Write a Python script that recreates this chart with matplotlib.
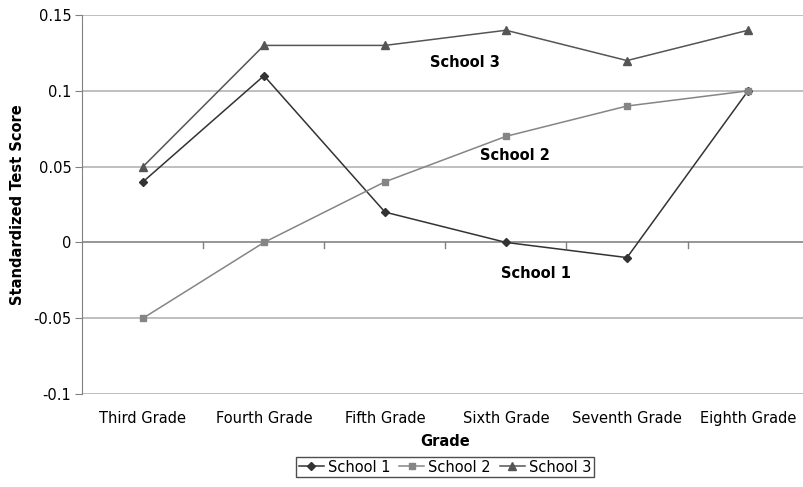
import matplotlib
matplotlib.use('Agg')
import matplotlib.pyplot as plt

# data
grades = ['Third Grade', 'Fourth Grade', 'Fifth Grade', 'Sixth Grade', 'Seventh Grade', 'Eighth Grade']
school1 = [0.04, 0.11, 0.02, 0.0, -0.01, 0.10]
school2 = [-0.05, 0.0, 0.04, 0.07, 0.09, 0.10]
school3 = [0.05, 0.13, 0.13, 0.14, 0.12, 0.14]

plt.rcParams['font.family'] = 'DejaVu Sans'

fig = plt.figure(figsize=(8.04, 4.87), dpi=100)
ax = fig.add_axes([0.1026, 0.191, 0.903, 0.778])

x = list(range(len(grades)))
ax.plot(x, school1, color='#333333', marker='D', markersize=4.5, linewidth=1.1, label='School 1')
ax.plot(x, school2, color='#858585', marker='s', markersize=5, linewidth=1.1, label='School 2')
ax.plot(x, school3, color='#555555', marker='^', markersize=5.5, linewidth=1.1, label='School 3')

ax.set_xlim(-0.5, len(grades) - 0.5)
ax.set_ylim(-0.1, 0.15)
ax.set_yticks([-0.1, -0.05, 0, 0.05, 0.1, 0.15])
ax.set_yticklabels(['-0.1', '-0.05', '0', '0.05', '0.1', '0.15'])
ax.yaxis.grid(True, color='#b4b4b4', linewidth=1.2)
ax.set_axisbelow(True)

# category labels below the plot, x axis line drawn at zero
for spine in ['top', 'right', 'bottom']:
    ax.spines[spine].set_visible(False)
ax.spines['left'].set_color('#808080')
ax.axhline(0, color='#909090', linewidth=1.2, zorder=1)
ax.set_xticks(x)
ax.set_xticklabels(grades, fontsize=10.5)
ax.tick_params(axis='x', length=0, pad=12)
for b in [i + 0.5 for i in x[:-1]]:
    ax.plot([b, b], [0, -0.0035], color='#808080', linewidth=1, zorder=1)
ax.tick_params(axis='y', labelsize=10.5, length=5, color='#808080', pad=3)

ax.set_xlabel('Grade', fontsize=10.5, fontweight='bold', labelpad=6)
ax.set_ylabel('Standardized Test Score', fontsize=10.5, fontweight='bold', labelpad=6)

ax.text(3.25, -0.0205, 'School 1', fontsize=10.5, fontweight='bold', ha='center', va='center')
ax.text(3.07, 0.0575, 'School 2', fontsize=10.5, fontweight='bold', ha='center', va='center')
ax.text(2.66, 0.119, 'School 3', fontsize=10.5, fontweight='bold', ha='center', va='center')

leg = fig.legend(loc='center', bbox_to_anchor=(0.5535, 0.041), ncol=3, fontsize=10.5,
                 frameon=True, fancybox=False, edgecolor='#222222', handlelength=1.7,
                 handletextpad=0.3, columnspacing=0.6, borderpad=0.2)
leg.get_frame().set_linewidth(1.0)

fig.savefig('out.png', dpi=100)
